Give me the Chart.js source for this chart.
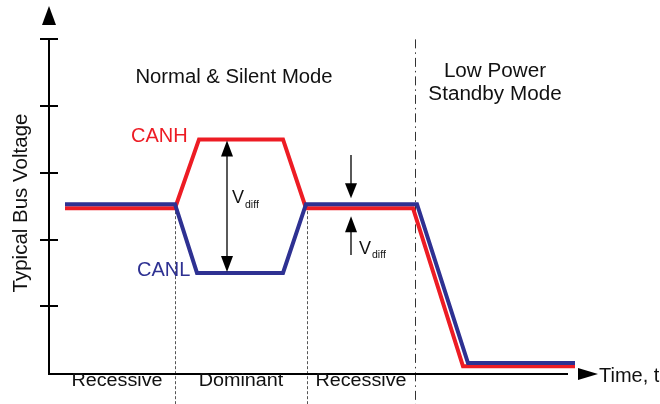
<!DOCTYPE html>
<html>
<head>
<meta charset="utf-8">
<script src="https://cdn.jsdelivr.net/npm/chart.js@4.4.1/dist/chart.umd.min.js"></script>
<style>
  html, body { margin: 0; padding: 0; background: #fff; }
  #wrap { width: 660px; height: 404px; }
</style>
</head>
<body>
<div id="wrap"><canvas id="chartCanvas" width="660" height="404"></canvas></div>
<script>
// time axis (arbitrary units) and bus voltage (V)
const canhTime = [1.6, 12.6, 15.0, 23.4, 25.7, 36.4, 41.4, 52.6];
const canhVolts = [2.47, 2.47, 3.5, 3.5, 2.47, 2.47, 0.1, 0.1];
const canlTime = [1.6, 12.6, 14.8, 23.4, 25.7, 36.8, 41.9, 52.6];
const canlVolts = [2.53, 2.53, 1.5, 1.5, 2.53, 2.53, 0.15, 0.15];
const yTicks = [1, 2, 3, 4, 5];
const phaseLabels = ['Recessive', 'Dominant', 'Recessive'];
const phaseEdges = [1.0, 12.6, 25.8, 36.6];
const modeLabels = ['Normal & Silent Mode', 'Low Power', 'Standby Mode'];

const RED = '#ed1c24';
const BLUE = '#2e3192';
const FONT = '"Liberation Sans", Arial, sans-serif';

function toXY(xs, ys) {
  return xs.map((x, i) => ({ x: x, y: ys[i] }));
}

function tri(ctx, x1, y1, x2, y2, x3, y3) {
  ctx.beginPath();
  ctx.moveTo(x1, y1);
  ctx.lineTo(x2, y2);
  ctx.lineTo(x3, y3);
  ctx.closePath();
  ctx.fill();
}

// text with a bit of horizontal stretch, the original uses a wide Helvetica
function label(ctx, s, x, y, size, align, sx, sy) {
  ctx.save();
  ctx.translate(x, y);
  ctx.scale(sx || 1, sy || 1);
  ctx.font = size + 'px ' + FONT;
  ctx.textAlign = align;
  ctx.textBaseline = 'middle';
  ctx.fillText(s, 0, 0);
  ctx.restore();
}

// axes, arrows, guide lines, and all the labels
const decor = {
  id: 'decor',
  beforeDatasetsDraw(chart) {
    const ctx = chart.ctx;
    const xs = chart.scales.x, ys = chart.scales.y;
    const X = v => xs.getPixelForValue(v);
    const Y = v => ys.getPixelForValue(v);
    ctx.save();
    // phase separators
    ctx.strokeStyle = '#555';
    ctx.lineWidth = 1;
    ctx.setLineDash([3, 2]);
    [phaseEdges[1], phaseEdges[2]].forEach(t => {
      ctx.beginPath();
      ctx.moveTo(Math.round(X(t)) + 0.5, Y(2.5));
      ctx.lineTo(Math.round(X(t)) + 0.5, 404);
      ctx.stroke();
    });
    ctx.strokeStyle = '#333';
    ctx.setLineDash([9, 4, 1.5, 4]);
    ctx.beginPath();
    ctx.moveTo(Math.round(X(phaseEdges[3])) + 0.5, Y(5.0));
    ctx.lineTo(Math.round(X(phaseEdges[3])) + 0.5, 404);
    ctx.stroke();
    ctx.restore();
  },
  afterDatasetsDraw(chart) {
    const ctx = chart.ctx;
    const xs = chart.scales.x, ys = chart.scales.y;
    const X = v => xs.getPixelForValue(v);
    const Y = v => ys.getPixelForValue(v);
    const x0 = X(0), y0 = Y(0);
    ctx.save();
    ctx.strokeStyle = '#000';
    ctx.fillStyle = '#000';
    ctx.lineWidth = 2;
    // axes
    ctx.beginPath();
    ctx.moveTo(x0, Y(5) - 1);
    ctx.lineTo(x0, y0 + 1);
    ctx.lineTo(X(51.9), y0 + 1);
    ctx.stroke();
    yTicks.forEach(t => {
      ctx.beginPath();
      ctx.moveTo(x0 - 9, Math.round(Y(t)));
      ctx.lineTo(x0 + 9, Math.round(Y(t)));
      ctx.stroke();
    });
    tri(ctx, x0, Y(5.5), x0 - 7, Y(5.5) + 19, x0 + 7, Y(5.5) + 19);
    tri(ctx, X(54.9), y0 + 1, X(52.9), y0 - 5, X(52.9), y0 + 7);

    // Vdiff arrows
    ctx.lineWidth = 1.3;
    const ax = X(17.8);
    ctx.beginPath();
    ctx.moveTo(ax, Y(3.5) + 10);
    ctx.lineTo(ax, Y(1.5) - 10);
    ctx.stroke();
    tri(ctx, ax, Y(3.5) + 1, ax - 6, Y(3.5) + 17, ax + 6, Y(3.5) + 17);
    tri(ctx, ax, Y(1.5) - 1, ax - 6, Y(1.5) - 17, ax + 6, Y(1.5) - 17);
    const bx = X(30.2);
    ctx.beginPath();
    ctx.moveTo(bx, 155);
    ctx.lineTo(bx, Y(2.53) - 14);
    ctx.moveTo(bx, Y(2.47) + 14);
    ctx.lineTo(bx, 255);
    ctx.stroke();
    tri(ctx, bx, Y(2.53) - 6, bx - 6, Y(2.53) - 21, bx + 6, Y(2.53) - 21);
    tri(ctx, bx, Y(2.47) + 8, bx - 6, Y(2.47) + 24, bx + 6, Y(2.47) + 24);

    // texts
    ctx.fillStyle = '#111';
    label(ctx, modeLabels[0], X(18.5), 78, 19.5, 'center', 1.04);
    label(ctx, modeLabels[1], X(44.6), 72, 19.5, 'center', 1.06);
    label(ctx, modeLabels[2], X(44.6), 95, 19.5, 'center', 1.06);
    for (let i = 0; i < phaseLabels.length; i++) {
      label(ctx, phaseLabels[i], X((phaseEdges[i] + phaseEdges[i + 1]) / 2), 381, 17.5, 'center', 1.13);
    }
    label(ctx, 'Time, t', 599, 376, 20, 'left');
    ctx.fillStyle = RED;
    label(ctx, 'CANH', 131, 136, 20, 'left');
    ctx.fillStyle = BLUE;
    label(ctx, 'CANL', 137, 270, 20, 'left');
    ctx.fillStyle = '#111';
    label(ctx, 'V', X(18.3), 198, 18, 'left');
    label(ctx, 'V', X(31.0), 249, 18, 'left');
    label(ctx, 'diff', X(18.3) + 13, 205, 10.5, 'left');
    label(ctx, 'diff', X(31.0) + 13, 255, 10.5, 'left');
    // y title
    ctx.translate(21, 203);
    ctx.rotate(-Math.PI / 2);
    label(ctx, 'Typical Bus Voltage', 0, 0, 20.5, 'center');
    ctx.restore();
  }
};

new Chart(document.getElementById('chartCanvas'), {
  type: 'scatter',
  data: {
    datasets: [
      {
        label: 'CANH',
        data: toXY(canhTime, canhVolts),
        showLine: true,
        borderColor: RED,
        borderWidth: 4,
        pointRadius: 0,
        borderJoinStyle: 'miter',
        order: 2
      },
      {
        label: 'CANL',
        data: toXY(canlTime, canlVolts),
        showLine: true,
        borderColor: BLUE,
        borderWidth: 4,
        pointRadius: 0,
        borderJoinStyle: 'miter',
        order: 1
      }
    ]
  },
  options: {
    responsive: false,
    animation: false,
    layout: { padding: { left: 49, right: 61, top: 6, bottom: 31 } },
    plugins: { legend: { display: false }, tooltip: { enabled: false } },
    scales: {
      x: { type: 'linear', min: 0, max: 55, display: false },
      y: { type: 'linear', min: 0, max: 5.5, display: false }
    }
  },
  plugins: [decor]
});
</script>
</body>
</html>
